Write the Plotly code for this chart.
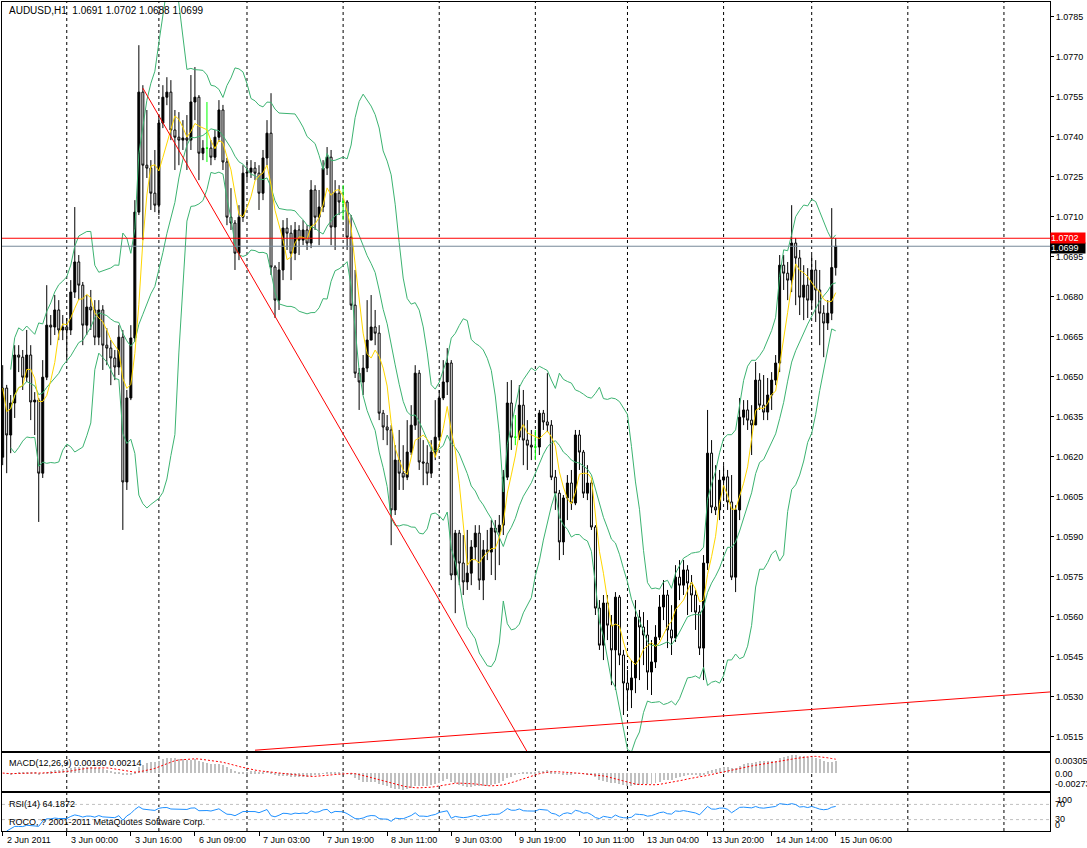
import pandas as pd
import plotly.graph_objects as go
from plotly.subplots import make_subplots

# ---------------- data (AUDUSD H1) ----------------
TITLE = "AUDUSD,H1  1.0691 1.0702 1.0688 1.0699"
OPEN = [
    1.06199, 1.06458, 1.06282, 1.06402, 1.06582, 1.06574, 1.06499, 1.06582, 1.06406, 1.06413,
    1.06139, 1.06499, 1.06694, 1.06687, 1.06751, 1.06676, 1.06687, 1.06676, 1.06818, 1.06931,
    1.06844, 1.06694, 1.06762, 1.06751, 1.06649, 1.06751, 1.06619, 1.06608, 1.06571, 1.06537,
    1.06649, 1.06106, 1.06421, 1.06646, 1.07118, 1.07568, 1.07294, 1.07283, 1.07189, 1.07144,
    1.07452, 1.07549, 1.07568, 1.07426, 1.07399, 1.07388, 1.07396, 1.07388, 1.07531, 1.07549,
    1.07339, 1.07358, 1.07358, 1.07324, 1.07399, 1.07501, 1.07306, 1.07099, 1.07077, 1.06964,
    1.07099, 1.07264, 1.07268, 1.07283, 1.07264, 1.07189, 1.07321, 1.07414, 1.06912, 1.06788,
    1.06901, 1.07058, 1.07039, 1.06964, 1.07051, 1.07013, 1.07051, 1.07002, 1.07201, 1.07099,
    1.07137, 1.07283, 1.07324, 1.07062, 1.07189, 1.07156, 1.07156, 1.07024, 1.06769, 1.06514,
    1.06481, 1.06533, 1.06638, 1.06687, 1.06664, 1.06364, 1.06312, 1.06301, 1.06001, 1.06188,
    1.06139, 1.06124, 1.06218, 1.06319, 1.06514, 1.06181, 1.06177, 1.06139, 1.06218, 1.06274,
    1.06421, 1.06481, 1.06552, 1.05757, 1.05914, 1.05802, 1.05731, 1.05764, 1.05862, 1.05914,
    1.05738, 1.05851, 1.05843, 1.05933, 1.05918, 1.05944, 1.06124, 1.06402, 1.06274, 1.06274,
    1.06394, 1.06263, 1.06244, 1.06237, 1.06237, 1.06364, 1.06331, 1.06319, 1.06124, 1.06064,
    1.05881, 1.06046, 1.06102, 1.06027, 1.06282, 1.06218, 1.06064, 1.06102, 1.05937, 1.05633,
    1.05494, 1.05652, 1.05569, 1.05476, 1.05674, 1.05457, 1.05352, 1.05326, 1.05371, 1.05599,
    1.05562, 1.05532, 1.05393, 1.05431, 1.05524, 1.05637, 1.05682, 1.05551, 1.05521, 1.05749,
    1.05719, 1.05776, 1.05727, 1.05682, 1.05618, 1.05483, 1.05802, 1.06214, 1.06012, 1.06001,
    1.06113, 1.06125, 1.06031, 1.05749, 1.06001, 1.06349, 1.06376, 1.06338, 1.06320, 1.06488,
    1.06394, 1.06368, 1.06432, 1.06488, 1.06552, 1.06919, 1.06889, 1.06863, 1.07002, 1.06946,
    1.06799, 1.06844, 1.06788, 1.06901, 1.06826, 1.06739, 1.06702, 1.06739, 1.06910,
]
HIGH = [
    1.06544, 1.06470, 1.06432, 1.06619, 1.06619, 1.06601, 1.06676, 1.06619, 1.06443, 1.06421,
    1.06563, 1.06844, 1.06732, 1.06807, 1.06788, 1.06732, 1.06721, 1.06863, 1.07137, 1.06957,
    1.06856, 1.06807, 1.06826, 1.06788, 1.06788, 1.06769, 1.06683, 1.06638, 1.06601, 1.06694,
    1.06676, 1.06451, 1.06694, 1.07163, 1.07744, 1.07594, 1.07501, 1.07313, 1.07351, 1.07482,
    1.07594, 1.07624, 1.07613, 1.07501, 1.07493, 1.07463, 1.07482, 1.07632, 1.07662, 1.07557,
    1.07388, 1.07531, 1.07388, 1.07426, 1.07538, 1.07520, 1.07321, 1.07208, 1.07088, 1.07144,
    1.07294, 1.07313, 1.07313, 1.07306, 1.07294, 1.07351, 1.07463, 1.07564, 1.06919, 1.06931,
    1.07088, 1.07096, 1.07069, 1.07081, 1.07069, 1.07088, 1.07069, 1.07238, 1.07219, 1.07201,
    1.07313, 1.07362, 1.07351, 1.07238, 1.07219, 1.07219, 1.07163, 1.07107, 1.06901, 1.06533,
    1.06582, 1.06788, 1.06807, 1.06751, 1.06694, 1.06376, 1.06357, 1.06319, 1.06244, 1.06301,
    1.06244, 1.06338, 1.06394, 1.06544, 1.06526, 1.06263, 1.06244, 1.06263, 1.06413, 1.06451,
    1.06563, 1.06608, 1.06563, 1.05926, 1.05926, 1.05907, 1.05926, 1.05888, 1.05944, 1.05944,
    1.05888, 1.05926, 1.05963, 1.05963, 1.05982, 1.06151, 1.06481, 1.06488, 1.06357, 1.06469,
    1.06451, 1.06338, 1.06301, 1.06301, 1.06376, 1.06376, 1.06514, 1.06338, 1.06151, 1.06076,
    1.06057, 1.06132, 1.06151, 1.06301, 1.06301, 1.06226, 1.06169, 1.06113, 1.05944, 1.05663,
    1.05682, 1.05682, 1.05607, 1.05693, 1.05682, 1.05476, 1.05401, 1.05438, 1.05663, 1.05626,
    1.05618, 1.05588, 1.05513, 1.05569, 1.05682, 1.05738, 1.05701, 1.05644, 1.05794, 1.05813,
    1.05813, 1.05794, 1.05757, 1.05701, 1.05644, 1.05832, 1.06376, 1.06263, 1.06169, 1.06151,
    1.06169, 1.06151, 1.06132, 1.06019, 1.06421, 1.06413, 1.06413, 1.06394, 1.06556, 1.06514,
    1.06507, 1.06496, 1.06518, 1.06582, 1.06957, 1.06957, 1.06931, 1.07144, 1.07021, 1.06976,
    1.06919, 1.06908, 1.06957, 1.06938, 1.06901, 1.06769, 1.06788, 1.07133, 1.07020,
]
LOW = [
    1.06169, 1.06139, 1.06214, 1.06346, 1.06518, 1.06451, 1.06481, 1.06338, 1.06282, 1.05956,
    1.06121, 1.06488, 1.06619, 1.06657, 1.06638, 1.06638, 1.06563, 1.06657, 1.06796, 1.06788,
    1.06619, 1.06657, 1.06676, 1.06619, 1.06619, 1.06526, 1.06544, 1.06469, 1.06488, 1.06507,
    1.05926, 1.06076, 1.06413, 1.06631, 1.07107, 1.07013, 1.07246, 1.07126, 1.07118, 1.07107,
    1.07433, 1.07519, 1.07388, 1.07276, 1.07294, 1.07351, 1.07276, 1.07351, 1.07463, 1.07238,
    1.07313, 1.07306, 1.07294, 1.07313, 1.07381, 1.07276, 1.07069, 1.07051, 1.06901, 1.06938,
    1.07081, 1.07238, 1.07246, 1.07238, 1.07126, 1.07163, 1.07294, 1.06882, 1.06721, 1.06751,
    1.06863, 1.06976, 1.06863, 1.06938, 1.06957, 1.06994, 1.06976, 1.06983, 1.07051, 1.06994,
    1.07118, 1.07257, 1.06994, 1.06976, 1.07107, 1.07088, 1.06976, 1.06751, 1.06496, 1.06376,
    1.06432, 1.06518, 1.06638, 1.06619, 1.06338, 1.06263, 1.06244, 1.05869, 1.05982, 1.06076,
    1.06076, 1.06113, 1.06207, 1.06301, 1.06151, 1.06094, 1.06094, 1.06121, 1.06188, 1.06263,
    1.06413, 1.06432, 1.05738, 1.05614, 1.05719, 1.05682, 1.05701, 1.05719, 1.05813, 1.05701,
    1.05663, 1.05813, 1.05757, 1.05738, 1.05794, 1.05907, 1.06113, 1.06226, 1.06244, 1.06263,
    1.06169, 1.06151, 1.06188, 1.06188, 1.06207, 1.06301, 1.06293, 1.06113, 1.06001, 1.05813,
    1.05832, 1.05963, 1.06001, 1.06019, 1.06151, 1.06046, 1.06038, 1.05926, 1.05607, 1.05476,
    1.05438, 1.05513, 1.05344, 1.05326, 1.05419, 1.05232, 1.05258, 1.05258, 1.05314, 1.05363,
    1.05419, 1.05326, 1.05307, 1.05408, 1.05513, 1.05588, 1.05483, 1.05457, 1.05506, 1.05663,
    1.05682, 1.05607, 1.05618, 1.05551, 1.05457, 1.05363, 1.05776, 1.05989, 1.05982, 1.05963,
    1.06038, 1.06001, 1.05738, 1.05693, 1.05963, 1.06319, 1.06301, 1.06207, 1.06319, 1.06376,
    1.06338, 1.06338, 1.06376, 1.06469, 1.06518, 1.06826, 1.06788, 1.06818, 1.06769, 1.06732,
    1.06713, 1.06721, 1.06751, 1.06706, 1.06619, 1.06574, 1.06676, 1.06713, 1.06880,
]
CLOSE = [
    1.06458, 1.06282, 1.06402, 1.06582, 1.06574, 1.06499, 1.06582, 1.06406, 1.06413, 1.06139,
    1.06499, 1.06694, 1.06687, 1.06751, 1.06676, 1.06687, 1.06676, 1.06818, 1.06931, 1.06844,
    1.06694, 1.06762, 1.06751, 1.06649, 1.06751, 1.06619, 1.06608, 1.06571, 1.06537, 1.06649,
    1.06106, 1.06421, 1.06646, 1.07118, 1.07568, 1.07294, 1.07283, 1.07189, 1.07144, 1.07452,
    1.07549, 1.07568, 1.07426, 1.07399, 1.07388, 1.07396, 1.07388, 1.07531, 1.07549, 1.07339,
    1.07358, 1.07358, 1.07324, 1.07399, 1.07501, 1.07306, 1.07099, 1.07077, 1.06964, 1.07099,
    1.07264, 1.07268, 1.07283, 1.07264, 1.07189, 1.07321, 1.07414, 1.06912, 1.06788, 1.06901,
    1.07058, 1.07039, 1.06964, 1.07051, 1.07013, 1.07051, 1.07002, 1.07201, 1.07099, 1.07137,
    1.07283, 1.07324, 1.07062, 1.07189, 1.07156, 1.07156, 1.07024, 1.06769, 1.06514, 1.06481,
    1.06533, 1.06638, 1.06687, 1.06664, 1.06364, 1.06312, 1.06301, 1.06001, 1.06188, 1.06139,
    1.06124, 1.06218, 1.06319, 1.06514, 1.06181, 1.06177, 1.06139, 1.06218, 1.06274, 1.06421,
    1.06481, 1.06552, 1.05757, 1.05914, 1.05802, 1.05731, 1.05764, 1.05862, 1.05914, 1.05738,
    1.05851, 1.05843, 1.05933, 1.05918, 1.05944, 1.06124, 1.06402, 1.06274, 1.06274, 1.06394,
    1.06263, 1.06244, 1.06237, 1.06237, 1.06364, 1.06331, 1.06319, 1.06124, 1.06064, 1.05881,
    1.06046, 1.06102, 1.06027, 1.06282, 1.06218, 1.06064, 1.06102, 1.05937, 1.05633, 1.05494,
    1.05652, 1.05569, 1.05476, 1.05674, 1.05457, 1.05352, 1.05326, 1.05371, 1.05599, 1.05562,
    1.05532, 1.05393, 1.05431, 1.05524, 1.05637, 1.05682, 1.05551, 1.05521, 1.05749, 1.05719,
    1.05776, 1.05727, 1.05682, 1.05618, 1.05483, 1.05802, 1.06214, 1.06012, 1.06001, 1.06113,
    1.06125, 1.06031, 1.05749, 1.06001, 1.06349, 1.06376, 1.06338, 1.06320, 1.06488, 1.06394,
    1.06368, 1.06432, 1.06488, 1.06552, 1.06919, 1.06889, 1.06863, 1.07002, 1.06946, 1.06799,
    1.06844, 1.06788, 1.06901, 1.06826, 1.06739, 1.06702, 1.06739, 1.06910, 1.06990,
]
DOJI_BARS = [51, 85, 128, 133]          # open == close, drawn in lime
SEPARATOR_BARS = [16, 39, 61, 85, 109, 133, 156, 180, 202, 226, 250]
TIME_TICK_BARS = [0, 16, 32, 48, 64, 80, 96, 112, 128, 144, 160, 176, 192, 208]
TIME_TICK_TEXT = ["2 Jun 2011", "3 Jun 00:00", "3 Jun 16:00", "6 Jun 09:00", "7 Jun 03:00",
                  "7 Jun 19:00", "8 Jun 11:00", "9 Jun 03:00", "9 Jun 19:00", "10 Jun 11:00",
                  "13 Jun 04:00", "13 Jun 20:00", "14 Jun 14:00", "15 Jun 06:00"]
PRICE_TICKS = [1.0515, 1.0530, 1.0545, 1.0560, 1.0575, 1.0590, 1.0605, 1.0620, 1.0635, 1.0650,
               1.0665, 1.0680, 1.0695, 1.0710, 1.0725, 1.0740, 1.0755, 1.0770, 1.0785]
ASK = 1.0702
BID = 1.0699
TREND1_BARS = [35, 131]
TREND1_PRICES = [1.07583, 1.05093]
TREND2_BARS = [63, 262]
TREND2_PRICES = [1.05100, 1.05319]
MACD_LABELS = ["0.00305", "0.00", "-0.00273"]
MACD_RANGE = [-0.00273, 0.00305]
RSI_LEVELS = [30, 70]
MACD_TEXT = "MACD(12,26,9) 0.00180 0.00214"
RSI_TEXT = "RSI(14) 64.1872"
COPY_TEXT = "ROCO, ? 2001-2011 MetaQuotes Software Corp."

# ---------------- indicators derived from the closes ----------------
bars = list(range(len(CLOSE)))
close = pd.Series(CLOSE)
ma5 = close.rolling(5, min_periods=1).mean()
bb_mid = close.rolling(14, min_periods=3).mean()
bb_sd = close.rolling(14, min_periods=3).std(ddof=0)
bb_up = bb_mid + 2 * bb_sd
bb_lo = bb_mid - 2 * bb_sd
macd = close.ewm(span=12, adjust=False).mean() - close.ewm(span=26, adjust=False).mean()
signal = macd.rolling(9, min_periods=1).mean()
delta = close.diff()
gain = delta.clip(lower=0).ewm(alpha=1 / 14, adjust=False).mean()
loss = (-delta.clip(upper=0)).ewm(alpha=1 / 14, adjust=False).mean()
rsi = 100 - 100 / (1 + gain / loss)

doji = set(DOJI_BARS)
def pick(arr, keep_doji):
    return [v if ((i in doji) == keep_doji) else None for i, v in enumerate(arr)]

FONT = dict(family="Liberation Sans, Arial, sans-serif", size=9, color="black")
W, H = 1087, 848
ML, MR, MT, MB = 2, 37, 2, 17
PH = H - MT - MB
def py(pix):  # pixel row -> paper y
    return (H - MB - pix) / PH

fig = make_subplots(rows=3, cols=1, shared_xaxes=True, vertical_spacing=0.0)

fig.add_trace(go.Candlestick(
    x=bars, open=pick(OPEN, False), high=pick(HIGH, False), low=pick(LOW, False),
    close=pick(CLOSE, False),
    increasing=dict(line=dict(color="black", width=1), fillcolor="black"),
    decreasing=dict(line=dict(color="black", width=1), fillcolor="white"),
    showlegend=False, hoverinfo="skip"), row=1, col=1)
fig.add_trace(go.Candlestick(
    x=bars, open=pick(OPEN, True), high=pick(HIGH, True), low=pick(LOW, True),
    close=pick(CLOSE, True),
    increasing=dict(line=dict(color="#00FF00", width=1), fillcolor="#00FF00"),
    decreasing=dict(line=dict(color="#00FF00", width=1), fillcolor="#00FF00"),
    showlegend=False, hoverinfo="skip"), row=1, col=1)

for band in (bb_up, bb_mid, bb_lo):
    fig.add_trace(go.Scatter(x=bars, y=band, mode="lines",
                             line=dict(color="#3CB371", width=1),
                             showlegend=False, hoverinfo="skip"), row=1, col=1)
fig.add_trace(go.Scatter(x=bars, y=ma5, mode="lines", line=dict(color="#FFD700", width=1),
                         showlegend=False, hoverinfo="skip"), row=1, col=1)
fig.add_trace(go.Scatter(x=TREND1_BARS, y=TREND1_PRICES, mode="lines",
                         line=dict(color="red", width=1), showlegend=False, hoverinfo="skip"),
              row=1, col=1)
fig.add_trace(go.Scatter(x=TREND2_BARS, y=TREND2_PRICES, mode="lines",
                         line=dict(color="red", width=1), showlegend=False, hoverinfo="skip"),
              row=1, col=1)

# MACD
fig.add_trace(go.Bar(x=bars, y=macd, width=0.25, marker=dict(color="#C0C0C0", line=dict(width=0)),
                     showlegend=False, hoverinfo="skip"), row=2, col=1)
fig.add_trace(go.Scatter(x=bars, y=signal, mode="lines",
                         line=dict(color="red", width=1, dash="2px,2px"),
                         showlegend=False, hoverinfo="skip"), row=2, col=1)
# RSI
fig.add_trace(go.Scatter(x=bars, y=rsi, mode="lines", line=dict(color="#1E90FF", width=1),
                         showlegend=False, hoverinfo="skip"), row=3, col=1)

shapes = []
for b in SEPARATOR_BARS:
    shapes.append(dict(type="line", xref="x", yref="paper", x0=b, x1=b, y0=0, y1=1,
                       line=dict(color="black", width=1, dash="3px,3px"), layer="below"))
for lv in RSI_LEVELS:
    shapes.append(dict(type="line", xref="x3 domain", yref="y3", x0=0, x1=1, y0=lv, y1=lv,
                       line=dict(color="#C0C0C0", width=1, dash="3px,3px"), layer="below"))
shapes.append(dict(type="line", xref="x domain", yref="y", x0=0, x1=1, y0=BID, y1=BID,
                   line=dict(color="#778899", width=1)))
shapes.append(dict(type="line", xref="x domain", yref="y", x0=0, x1=1, y0=ASK, y1=ASK,
                   line=dict(color="red", width=1)))

ann = []
def txt(text, x, y, xref="paper", yref="paper", **kw):
    d = dict(text=text, x=x, y=y, xref=xref, yref=yref, showarrow=False, font=FONT,
             xanchor="left", yanchor="middle")
    d.update(kw)
    ann.append(d)

txt(TITLE, (7 - ML) / 1048, py(10),
    font=dict(family=FONT["family"], size=10, color="black"))
txt(MACD_TEXT, (7 - ML) / 1048, py(763))
txt(RSI_TEXT, (7 - ML) / 1048, py(804))
txt(COPY_TEXT, (7 - ML) / 1048, py(822))
for b, t in zip(TIME_TICK_BARS, TIME_TICK_TEXT):
    txt(t, b, py(840), xref="x3", xshift=2)
for lab, pix in zip(MACD_LABELS, [761, 774, 784]):
    txt(lab, 1, py(pix), xshift=3)
for lab, pix, sh in zip(["100", "70", "30", "0"], [800, 804, 819, 825], [5, 3, 3, 3]):
    txt(lab, 1, py(pix), xshift=sh)
txt(f"{BID:.4f}", 1, BID, yref="y", xshift=0, bgcolor="black",
    font=dict(family=FONT["family"], size=9, color="white"), width=34, height=10,
    align="left", borderpad=0, yshift=-2)
txt(f"{ASK:.4f}", 1, ASK, yref="y", xshift=0, bgcolor="red",
    font=dict(family=FONT["family"], size=9, color="white"), width=34, height=10,
    align="left", borderpad=0)

axis_common = dict(showline=True, mirror=True, linecolor="black", linewidth=1,
                   showgrid=False, zeroline=False)
fig.update_xaxes(range=[-0.17, 261.5], showticklabels=False, rangeslider_visible=False,
                 **axis_common)
fig.update_xaxes(ticks="outside", ticklen=4, tickcolor="black", tickvals=TIME_TICK_BARS,
                 row=3, col=1)
fig.update_layout(
    width=W, height=H, margin=dict(l=ML, r=MR, t=MT, b=MB),
    paper_bgcolor="white", plot_bgcolor="white", boxgap=0.3, bargap=0,
    font=FONT, shapes=shapes, annotations=ann, showlegend=False,
    yaxis=dict(domain=[py(751), 1.0], range=[1.05097, 1.07906], side="right",
               tickvals=PRICE_TICKS, ticktext=[f"{v:.4f}" for v in PRICE_TICKS],
               ticks="outside", ticklen=3, tickcolor="black", tickfont=FONT, **axis_common),
    yaxis2=dict(domain=[py(791), py(753)], range=MACD_RANGE, side="right",
                showticklabels=False, ticks="", **axis_common),
    yaxis3=dict(domain=[0, py(793)], range=[0, 100], side="right",
                showticklabels=False, ticks="", **axis_common),
)

fig.write_html("out.html",
               config={"displayModeBar": False},
               post_script="document.body.style.margin='0px';"
                           "document.body.style.overflow='hidden';")
